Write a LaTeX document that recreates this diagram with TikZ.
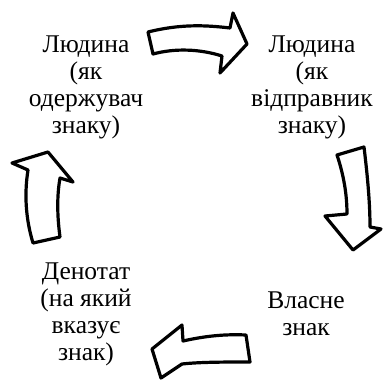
\documentclass[tikz,border=0pt]{standalone}
\usepackage{fontspec}
\setmainfont{Liberation Serif}
\usepackage{tikz}
\usetikzlibrary{positioning}
\tikzset{
  signtext/.style={align=center, inner sep=0pt, font=\fontsize{25.5}{27}\selectfont},
  blockarrow/.style={draw=black, fill=white, line width=3.2pt, line join=round}
}

\begin{document}
\begin{tikzpicture}[x=1pt,y=-1pt]
  \useasboundingbox (0,0) rectangle (383,383);

  \node[signtext] (receiver) at (86,87) {Людина\\(як\\одержувач\\знаку)};
  \node[signtext] (sender) at (312,87) {Людина\\(як\\відправник\\знаку)};
  \node[signtext] (sign) at (306,314) {Власне\\знак};
  \node[signtext] (denotat) at (86,314) {Денотат\\(на який\\вказує\\знак)};

  % top arrow, to the right
  \draw[blockarrow] (148,32) .. controls (180,24) and (205,25) .. (230,28)
    -- (233,13) -- (247,44) -- (220,73) -- (222,56)
    .. controls (200,49) and (175,48) .. (153,54) -- cycle;
  % right arrow, downwards
  \draw[blockarrow] (337,155) -- (364,147) .. controls (368,180) and (370,205) .. (370,227)
    -- (381,229) -- (353,250) -- (325,216) -- (347,214)
    .. controls (347,190) and (342,170) .. (337,155) -- cycle;
  % bottom arrow, to the left
  \draw[blockarrow] (246,335) -- (250,362) .. controls (225,362) and (200,362) .. (182,364)
    -- (161,378) -- (152,349) -- (182,325) -- (183,341)
    .. controls (205,336) and (225,334) .. (246,335) -- cycle;
  % left arrow, upwards
  \draw[blockarrow] (33,243) -- (60,237) .. controls (57,215) and (57,195) .. (60,178)
    -- (73,182) -- (48,152) -- (12,163) -- (28,170)
    .. controls (24,195) and (26,220) .. (33,243) -- cycle;
\end{tikzpicture}
\end{document}
